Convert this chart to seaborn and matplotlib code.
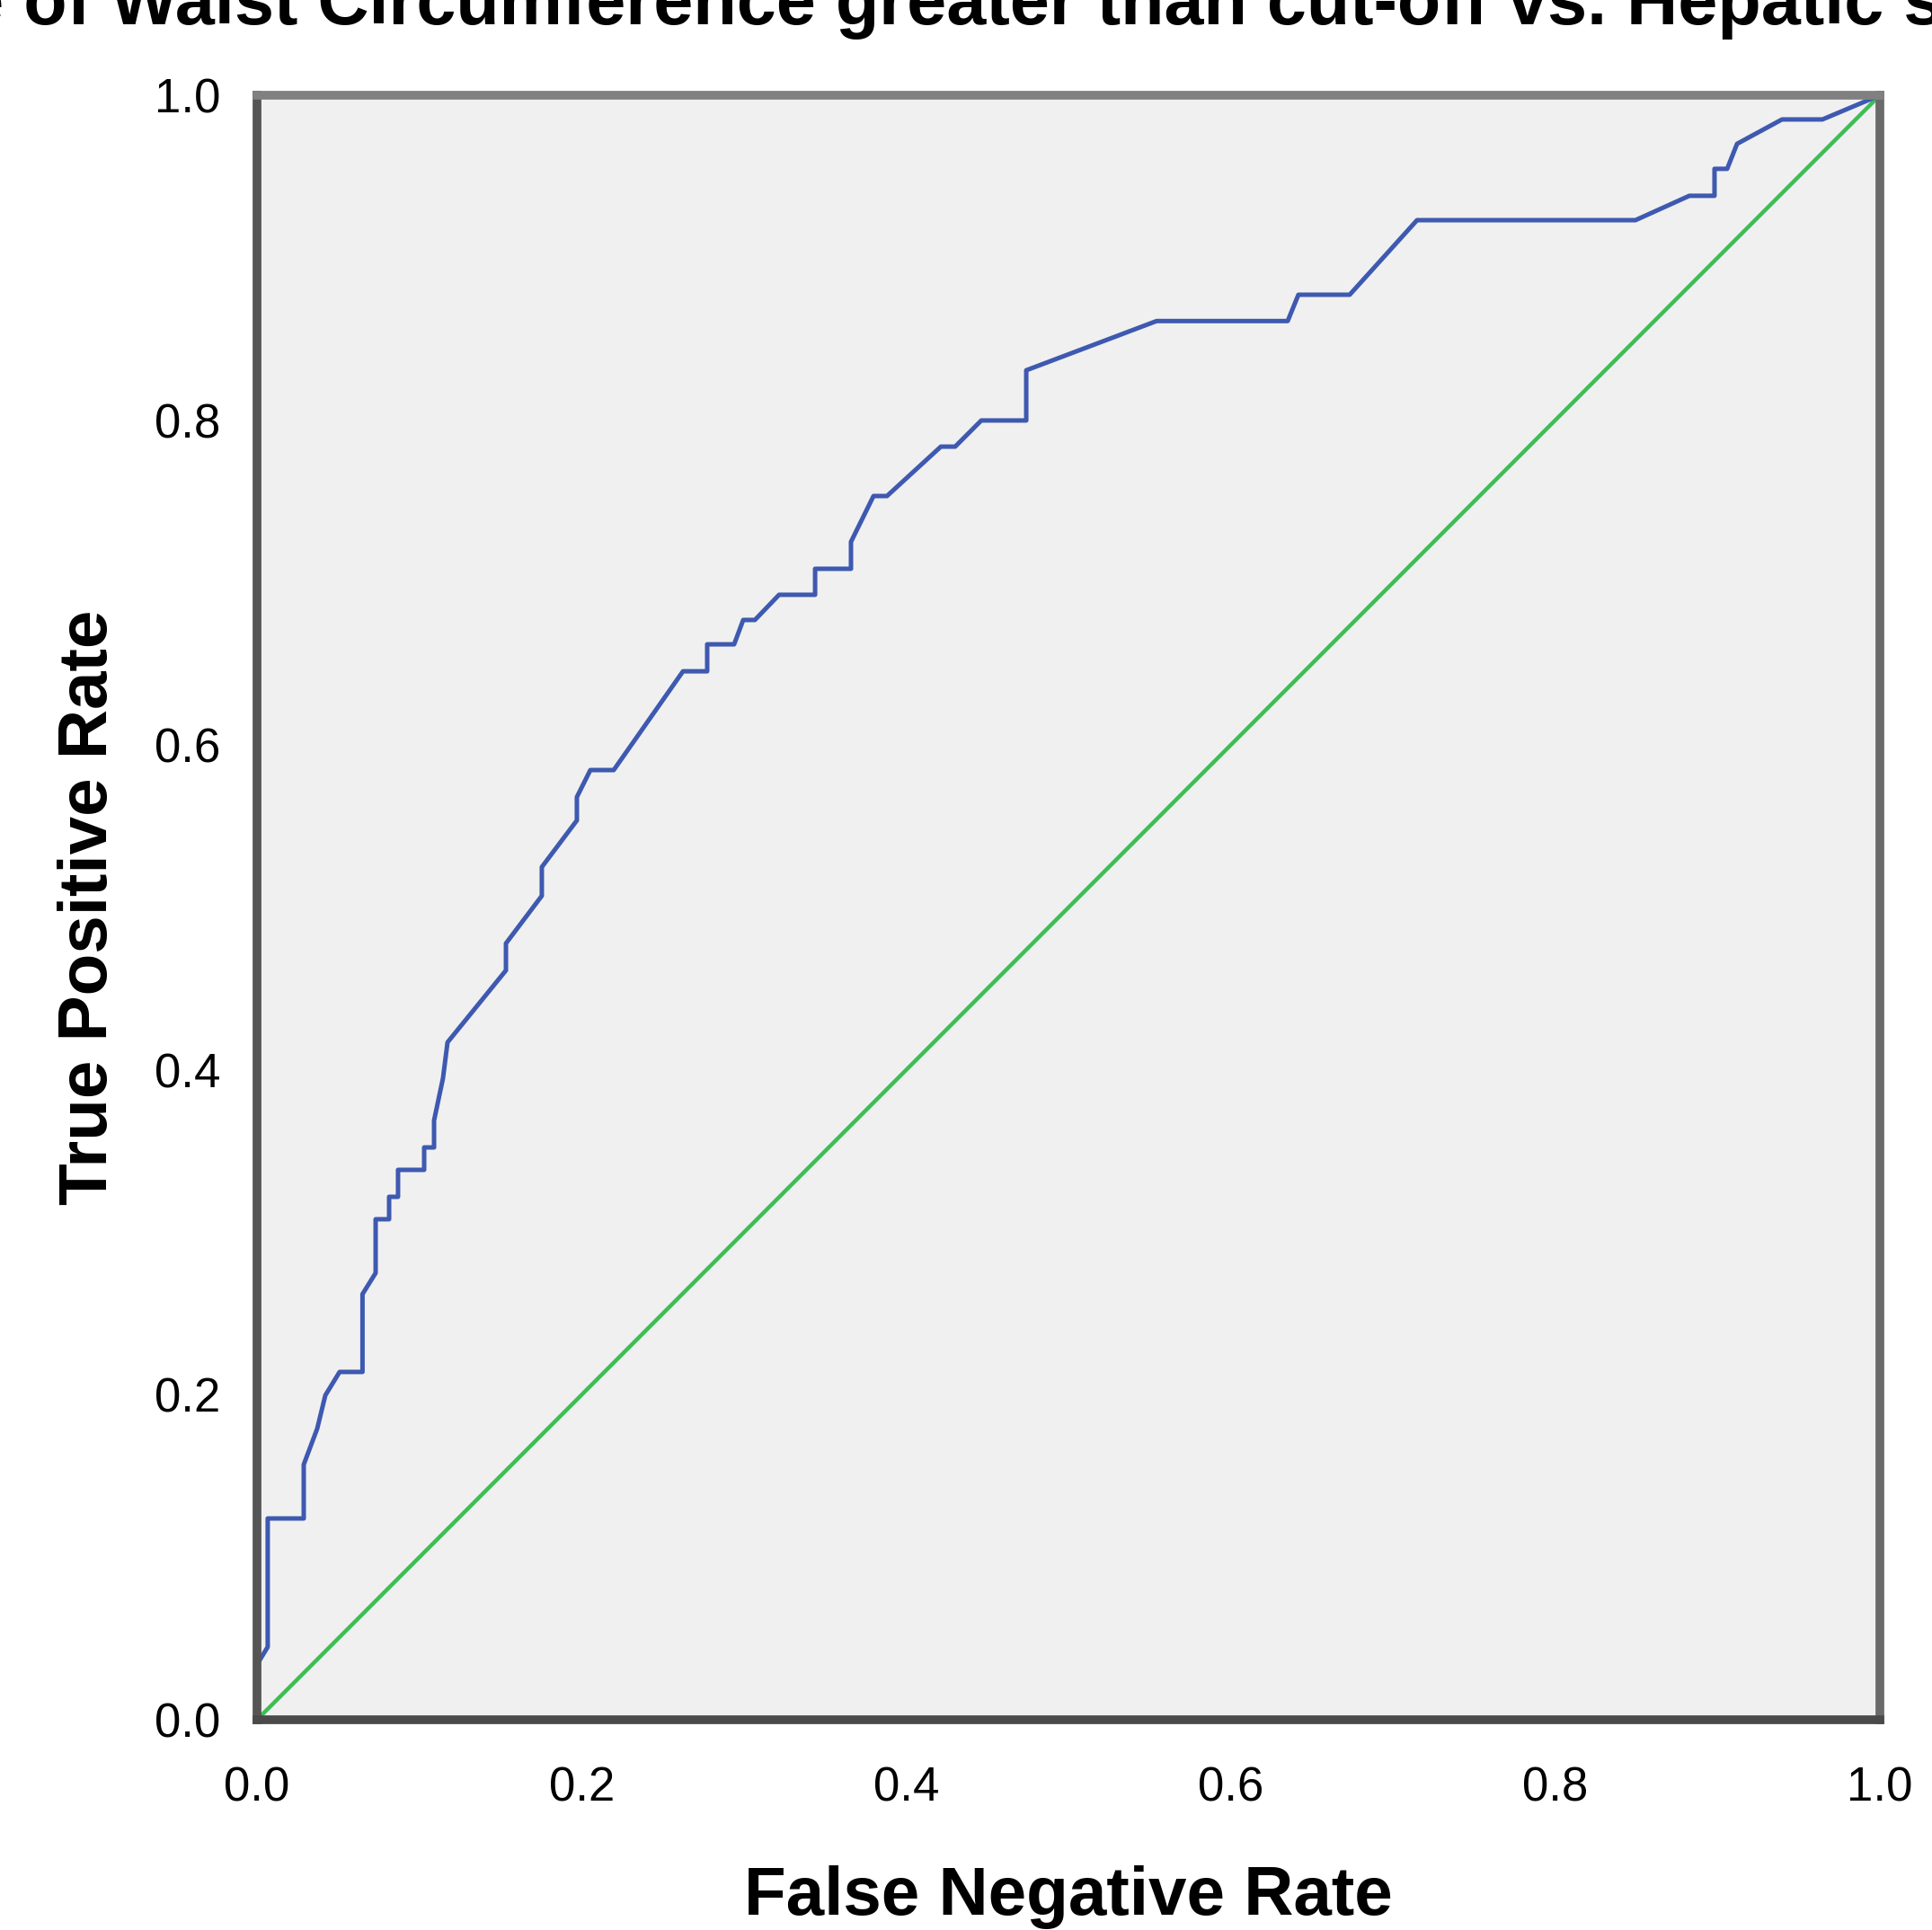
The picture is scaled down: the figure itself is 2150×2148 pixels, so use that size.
"""
Curva ROC: circunferência da cintura acima do ponto de corte vs. esteatose hepática.
Reproduz o gráfico exportado do SPSS.
"""
import matplotlib
matplotlib.use("Agg")
import matplotlib.pyplot as plt
import seaborn as sns

TITLE = "ROC Curve of Waist Circumference greater than cut-off vs. Hepatic steatosis"
X_LABEL = "False Negative Rate"
Y_LABEL = "True Positive Rate"

# pontos da curva
fpr = [0.0, 0.0, 0.0066, 0.0066, 0.0288, 0.0288, 0.0371, 0.0421, 0.0509, 0.065,
       0.065, 0.0731, 0.0731, 0.0814, 0.0814, 0.0869, 0.0869, 0.1030, 0.1030, 0.1091,
       0.1091, 0.1146, 0.1174, 0.1534, 0.1534, 0.1755, 0.1755, 0.1971, 0.1971, 0.2054,
       0.2198, 0.2625, 0.2774, 0.2774, 0.2940, 0.2996, 0.3068, 0.3217, 0.3439, 0.3439,
       0.3660, 0.3660, 0.3799, 0.3882, 0.4214, 0.4302, 0.4463, 0.4740, 0.4740, 0.5543,
       0.6351, 0.6417, 0.6733, 0.7148, 0.8494, 0.8826, 0.8981, 0.8981, 0.9059, 0.9120,
       0.9397, 0.9646, 1.0]
tpr = [0.0, 0.034, 0.0448, 0.1239, 0.1239, 0.1571, 0.1792, 0.1997, 0.2141, 0.2141,
       0.262, 0.275, 0.3081, 0.3081, 0.3219, 0.3219, 0.3385, 0.3385, 0.3523, 0.3523,
       0.3689, 0.3949, 0.4170, 0.4613, 0.4779, 0.5072, 0.5249, 0.5536, 0.5680, 0.5846,
       0.5846, 0.6454, 0.6454, 0.6620, 0.6620, 0.6770, 0.6770, 0.6925, 0.6925, 0.7085,
       0.7085, 0.7251, 0.7533, 0.7533, 0.7837, 0.7837, 0.7998, 0.7998, 0.8307, 0.8610,
       0.8610, 0.8772, 0.8772, 0.9231, 0.9231, 0.9381, 0.9381, 0.9547, 0.9547, 0.9701,
       0.9851, 0.9851, 1.0]

# linha de referência
ref_x = [0.0, 1.0]
ref_y = [0.0, 1.0]

ticks = [0.0, 0.2, 0.4, 0.6, 0.8, 1.0]
tick_labels = ["0.0", "0.2", "0.4", "0.6", "0.8", "1.0"]

BLUE = "#3e59b0"
GREEN = "#3dbe55"


def main() -> None:
    sns.set_style("white")
    plt.rcParams["font.family"] = ["Liberation Sans", "DejaVu Sans"]
    plt.rcParams["text.color"] = "black"
    plt.rcParams["axes.labelcolor"] = "black"

    W, H = 2150, 2148
    fig = plt.figure(figsize=(W / 100, H / 100), dpi=100)
    ax = fig.add_axes([286 / W, 1 - 1914 / H, 1806 / W, 1808 / H])
    ax.set_facecolor("#f0f0f0")

    sns.lineplot(x=ref_x, y=ref_y, ax=ax, color=GREEN, linewidth=3.2,
                 estimator=None, sort=False)
    sns.lineplot(x=fpr, y=tpr, ax=ax, color=BLUE, linewidth=3.6,
                 estimator=None, sort=False)

    ax.set_xlim(0, 1)
    ax.set_ylim(0, 1)
    ax.set_xticks(ticks)
    ax.set_xticklabels(tick_labels)
    ax.set_yticks(ticks)
    ax.set_yticklabels(tick_labels)
    ax.tick_params(axis="both", direction="out", length=26, width=3,
                   color="black", labelsize=38, labelcolor="black")
    ax.tick_params(axis="x", pad=11)
    ax.tick_params(axis="y", pad=3)

    spine_colors = {"left": "#555555", "bottom": "#4a4a4a",
                    "top": "#808080", "right": "#6a6a6a"}
    for side, col in spine_colors.items():
        ax.spines[side].set_visible(True)
        ax.spines[side].set_color(col)
        ax.spines[side].set_linewidth(7)

    ax.set_xlabel(X_LABEL, fontsize=55, fontweight="bold", color="black")
    ax.set_ylabel(Y_LABEL, fontsize=55, fontweight="bold", color="black")
    ax.xaxis.label.set_va("baseline")
    ax.xaxis.set_label_coords(0.5, (1914 - 2131) / 1808)
    ax.yaxis.label.set_rotation_mode("anchor")
    ax.yaxis.label.set_va("baseline")
    ax.yaxis.label.set_ha("center")
    ax.yaxis.set_label_coords((119 - 286) / 1806, 0.5)

    # o título do SPSS fica cortado nas bordas da imagem
    fig.text(0.4753, 1 - 27 / H, TITLE, ha="center", va="baseline",
             fontsize=57, fontweight="bold", color="black")

    fig.savefig("out.png", dpi=100)
    plt.close(fig)


if __name__ == "__main__":
    main()
